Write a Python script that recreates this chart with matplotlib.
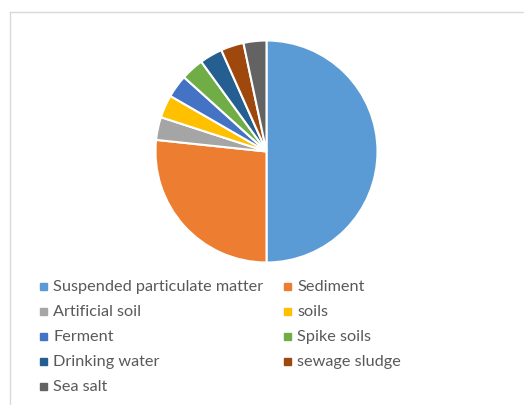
import matplotlib.pyplot as plt
from matplotlib.patches import Rectangle

# data (counts)
labels = ['Suspended particulate matter', 'Sediment', 'Artificial soil', 'soils',
          'Ferment', 'Spike soils', 'Drinking water', 'sewage sludge', 'Sea salt']
values = [15, 8, 1, 1, 1, 1, 1, 1, 1]
colors = ['#5B9BD5', '#ED7D31', '#A5A5A5', '#FFC000', '#4472C4',
          '#70AD47', '#255E91', '#9E480E', '#636363']

W, H = 524, 406
fig = plt.figure(figsize=(W / 100, H / 100), dpi=100)
ax = fig.add_axes([0, 0, 1, 1])

ax.pie(values, colors=colors, startangle=90, counterclock=False,
       center=(266.5, H - 152.5), radius=111,
       wedgeprops=dict(edgecolor='white', linewidth=1.5))

ax.set_xlim(0, W)
ax.set_ylim(0, H)
ax.set_aspect('equal')
ax.axis('off')

# chart area border (only top and left visible in the crop)
ax.plot([9.5, W], [H - 12.5, H - 12.5], color='#D9D9D9', lw=1)
ax.plot([9.5, 9.5], [0, H - 12.5], color='#D9D9D9', lw=1)

# legend, two columns, row-major
for i, (lab, col) in enumerate(zip(labels, colors)):
    r, c = divmod(i, 2)
    x = 43 if c == 0 else 287
    y = H - (287 + 25 * r)
    ax.add_patch(Rectangle((x - 3.5, y - 3.5), 7, 7, color=col))
    ax.text(x + 10, y, lab, fontsize=11.7, family='Lato', color='#595959',
            va='center', ha='left')

fig.savefig('out.png', dpi=100)
